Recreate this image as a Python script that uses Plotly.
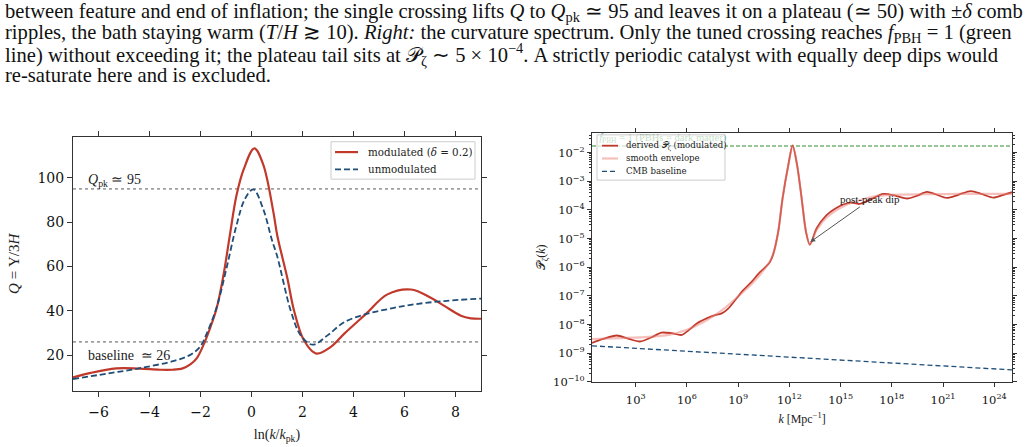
import numpy as np
import plotly.graph_objects as go

# ---------------- data: left panel ----------------
lnk_mod = [-7, -6.3, -5.3, -4.4, -3.6, -3.1, -2.7, -2.4, -2.15, -1.83, -1.63, -1.37, -1.1, -0.85,
           -0.59, -0.3, 0.11, 0.46, 0.86, 1.01, 1.4, 1.67, 2.06, 2.54, 3.11, 3.63, 4.48, 5.33,
           6.25, 7.03, 7.56, 8.21, 8.6, 9]
Q_mod = [9.9, 12.0, 14.0, 13.9, 13.4, 13.4, 14.0, 15.8, 18.5, 26, 32, 41, 56, 74,
         92, 104, 113.3, 106, 84.4, 74, 55, 40, 26.6, 20.7, 23.7, 29.6, 38.5, 47.4,
         49.6, 45.9, 42.2, 37.8, 36.6, 36.4]
lnk_unmod = [-7, -5.69, -4.38, -3.07, -2.42, -2.02, -1.76, -1.37, -0.98, -0.59, -0.26, 0.07,
             0.46, 0.8, 1.01, 1.54, 1.93, 2.39, 2.98, 3.63, 4.48, 5.33, 6.25, 7.56, 9]
Q_unmod = [9.2, 11.6, 14.1, 17.3, 20.0, 23.7, 29.6, 41.5, 59.2, 78.5, 90.4, 94.8,
           85.9, 72, 64.5, 40, 28.9, 24.7, 28.9, 34.8, 38.5, 40.7, 42.7, 44.4, 45.5]
Q_levels = [95, 26]
Q_level_labels = ["<i>Q</i><sub>pk</sub> ≃ 95", "baseline  ≃ 26"]
left_xticks = [-6, -4, -2, 0, 2, 4, 6, 8]
left_yticks = [20, 40, 60, 80, 100]
left_names = ["modulated (<i>δ</i> = 0.2)", "unmodulated"]

# ---------------- data: right panel (log10 values) ----------------
logk_mod = [0.44, 1.1, 1.89, 2.6, 3.25, 3.9, 4.52, 5.1, 5.7, 6.2, 6.6, 7.16, 7.7, 8.04, 8.4, 8.82,
            9.3, 9.8, 10.2, 10.57, 10.86, 11.05, 11.35, 11.6, 11.93, 12.19, 12.46, 12.72, 12.97,
            13.2, 13.6, 14.18, 14.7, 15.2, 15.6, 16.1, 16.8, 17.5, 18.2, 18.9, 19.5, 20.05,
            20.6, 21.22, 21.9, 22.63, 23.3, 23.96, 24.5, 25.04]
logP_mod = [-8.64, -8.5, -8.38, -8.5, -8.59, -8.45, -8.28, -8.3, -8.36, -8.15, -7.95, -7.78, -7.66,
            -7.61, -7.45, -7.15, -6.8, -6.5, -6.22, -6.01, -5.82, -5.55, -4.75, -3.6, -2.46, -1.75,
            -2.46, -3.6, -4.75, -5.21, -4.64, -4.18, -3.95, -3.8, -3.74, -3.79, -3.62, -3.44,
            -3.5, -3.6, -3.5, -3.37, -3.46, -3.58, -3.47, -3.34, -3.45, -3.57, -3.48, -3.38]
logk_env = [0.44, 2.0, 3.5, 5.0, 6.0, 7.0, 8.0, 9.0, 10.0, 10.8, 11.05, 11.35, 11.6, 11.93, 12.19,
            12.46, 12.72, 12.97, 13.2, 13.6, 14.2, 15.2, 16.1, 17.0, 18.0, 20.0, 22.0, 25.04]
logP_env = [-8.51, -8.47, -8.44, -8.35, -8.18, -7.9, -7.52, -7.02, -6.45, -5.85, -5.55, -4.75,
            -3.6, -2.46, -1.75, -2.46, -3.6, -4.75, -5.21, -4.7, -4.25, -3.86, -3.66, -3.52,
            -3.47, -3.45, -3.44, -3.44]
logk_cmb = [0.44, 25.04]
logP_cmb = [-8.74, -9.58]
logP_fpbh = -1.77
right_xtick_exp = [3, 6, 9, 12, 15, 18, 21, 24]
right_ytick_exp = [-10, -9, -8, -7, -6, -5, -4, -3, -2]
right_names = ["derived 𝒫<sub>ζ</sub> (modulated)", "smooth envelope", "CMB baseline"]

caption_lines = [
    "between feature and end of inflation; the single crossing lifts <i>Q</i> to <i>Q</i><sub>pk</sub> ≃ 95 and leaves it on a plateau (≃ 50) with ±<i>δ</i> comb",
    "ripples, the bath staying warm (<i>T</i>/<i>H</i> ≳ 10). <i>Right:</i> the curvature spectrum. Only the tuned crossing reaches <i>f</i><sub>PBH</sub> = 1 (green",
    "line) without exceeding it; the plateau tail sits at 𝒫<sub>ζ</sub> ∼ 5 × 10<sup>−4</sup>. A strictly periodic catalyst with equally deep dips would",
    "re-saturate here and is excluded.",
]

RED = "#c0392b"
BLUE = "#1f4e79"
PINK = "rgba(235,130,120,0.5)"
GREEN = "#2e8b2e"
SERIF = "DejaVu Serif"
TSERIF = "Liberation Serif"

W, H = 1028, 447
px = lambda v: v / W
py = lambda v: 1 - v / H

fig = go.Figure()

# left panel
fig.add_trace(go.Scatter(x=lnk_mod, y=Q_mod, mode="lines", line=dict(color=RED, width=2.2, shape="spline"),
                         name=left_names[0], xaxis="x", yaxis="y", showlegend=False))
fig.add_trace(go.Scatter(x=lnk_unmod, y=Q_unmod, mode="lines",
                         line=dict(color=BLUE, width=1.8, dash="6px,3px", shape="spline"),
                         name=left_names[1], xaxis="x", yaxis="y", showlegend=False))

# right panel
kk = lambda a: [10.0 ** v for v in a]
fig.add_trace(go.Scatter(x=kk(logk_cmb), y=[10.0 ** logP_fpbh] * 2, mode="lines",
                         line=dict(color=GREEN, width=1.1, dash="4px,2px"),
                         showlegend=False, xaxis="x2", yaxis="y2"))
fig.add_trace(go.Scatter(x=[10 ** 0.86], y=[10 ** -1.5], mode="text",
                         text=["<i>f</i><sub>PBH</sub> = 1 (PBHs = dark matter)"],
                         textposition="middle right", textfont=dict(color=GREEN, size=10.5, family=TSERIF),
                         showlegend=False, xaxis="x2", yaxis="y2", hoverinfo="skip"))
fig.add_trace(go.Scatter(x=kk(logk_mod), y=kk(logP_mod), mode="lines",
                         line=dict(color=RED, width=1.8, shape="spline", smoothing=0.8),
                         name=right_names[0], xaxis="x2", yaxis="y2", showlegend=False))
fig.add_trace(go.Scatter(x=kk(logk_env), y=kk(logP_env), mode="lines",
                         line=dict(color=PINK, width=2.2, shape="spline", smoothing=0.8),
                         name=right_names[1], xaxis="x2", yaxis="y2", showlegend=False))
fig.add_trace(go.Scatter(x=kk(logk_cmb), y=kk(logP_cmb), mode="lines",
                         line=dict(color=BLUE, width=1.3, dash="5px,3px"),
                         name=right_names[2], xaxis="x2", yaxis="y2", showlegend=False))

shapes = []
for v in Q_levels:
    shapes.append(dict(type="line", xref="x domain", x0=0, x1=1, yref="y", y0=v, y1=v,
                       line=dict(color="#a0a0a0", width=1.8, dash="dot"), layer="below"))

annotations = []
for v, lab in zip(Q_levels, Q_level_labels):
    annotations.append(dict(x=-6.48, y=v + 4.0 if v > 50 else v - 6.0, xref="x", yref="y", text=lab,
                            showarrow=False, xanchor="left", yanchor="middle",
                            font=dict(family=TSERIF, size=14, color="#222")))
annotations.append(dict(x=13.22, y=-5.12, xref="x2", yref="y2", ax=16.75, ay=-3.63, axref="x2", ayref="y2",
                        text="post-peak dip", showarrow=True, arrowhead=2, arrowsize=1, arrowwidth=1,
                        arrowcolor="#555", font=dict(family=TSERIF, size=11, color="#222")))

# ---- compact legends (box + line samples + labels) ----
def add_legend(box, rows, names, styles, x_sym, x_txt, fsize):
    x0, x1, y0, y1 = box
    shapes.append(dict(type="rect", xref="paper", yref="paper", x0=px(x0), x1=px(x1), y0=py(y1), y1=py(y0),
                       fillcolor="rgba(255,255,255,0.72)", line=dict(color="#cccccc", width=1), layer="above"))
    for yr, nm, st in zip(rows, names, styles):
        shapes.append(dict(type="line", xref="paper", yref="paper", x0=px(x_sym[0]), x1=px(x_sym[1]),
                           y0=py(yr), y1=py(yr), line=st, layer="above"))
        annotations.append(dict(x=px(x_txt), y=py(yr), xref="paper", yref="paper", text=nm, showarrow=False,
                                xanchor="left", yanchor="middle", font=dict(family=SERIF, size=fsize, color="#222")))

add_legend((331, 475, 144, 182), [154.5, 172], left_names,
           [dict(color=RED, width=2.2), dict(color=BLUE, width=1.8, dash="6px,3px")],
           (335, 358), 366, 10.3)
add_legend((597, 725, 137, 183), [148, 161, 174], right_names,
           [dict(color=RED, width=1.8), dict(color=PINK, width=2.2), dict(color=BLUE, width=1.3, dash="5px,3px")],
           (602, 618), 624, 8.6)

ycent = [13, 34, 55, 76]
for t, yc in zip(caption_lines, ycent):
    annotations.append(dict(x=3 / W, y=1 - yc / H, xref="paper", yref="paper", text=t, showarrow=False,
                            xanchor="left", yanchor="middle", font=dict(family=TSERIF, size=20.6, color="#111")))

axis_common = dict(showline=True, linecolor="#333", linewidth=1, mirror="ticks", ticks="outside",
                   tickcolor="#333", showgrid=False, zeroline=False)

fig.update_layout(
    width=W, height=H, margin=dict(l=0, r=0, t=0, b=0),
    plot_bgcolor="white", paper_bgcolor="white", showlegend=False,
    xaxis=dict(domain=[73 / W, 481 / W], range=[-7, 9], tickvals=left_xticks,
               ticktext=[f"−{abs(v)}" if v < 0 else str(v) for v in left_xticks],
               tickfont=dict(family=SERIF, size=14, color="#111"), ticklen=5, ticklabelstandoff=3,
               title=dict(text="ln(<i>k</i>/<i>k</i><sub>pk</sub>)", font=dict(family=TSERIF, size=14, color="#222"),
                          standoff=10),
               anchor="y", **axis_common),
    yaxis=dict(domain=[1 - 397 / H, 1 - 139 / H], range=[3.9, 118.5], tickvals=left_yticks,
               tickfont=dict(family=SERIF, size=14, color="#111"), ticklen=5,
               title=dict(text="<i>Q</i> = Υ/3<i>H</i>", font=dict(family=TSERIF, size=15, color="#222"),
                          standoff=14),
               anchor="x", **axis_common),
    xaxis2=dict(domain=[592 / W, 1012 / W], type="log", range=[0.44, 25.04],
                tickvals=[10.0 ** e for e in right_xtick_exp],
                ticktext=[f"10<sup>{e}</sup>" for e in right_xtick_exp],
                tickfont=dict(family=SERIF, size=11.5, color="#111"), ticklen=4, ticklabelstandoff=3,
                title=dict(text="<i>k</i> [Mpc<sup>−1</sup>]", font=dict(family=TSERIF, size=12, color="#222"),
                           standoff=8),
                anchor="y2", **axis_common),
    yaxis2=dict(domain=[1 - 388 / H, 1 - 135 / H], type="log", range=[-10, -1.31],
                tickvals=[10.0 ** e for e in right_ytick_exp],
                ticktext=[f"10<sup>−{abs(e)}</sup>" for e in right_ytick_exp],
                tickfont=dict(family=SERIF, size=11.5, color="#111"), ticklen=4,
                minor=dict(ticks="outside", ticklen=2, tickcolor="#333",
                           tickvals=[m * 10.0 ** e for e in range(-10, -1) for m in range(2, 10)]),
                title=dict(text="𝒫<sub>ζ</sub>(<i>k</i>)", font=dict(family=TSERIF, size=12, color="#222"),
                           standoff=4),
                anchor="x2", **axis_common),
    shapes=shapes, annotations=annotations,
)

fig.write_html("out.html")
